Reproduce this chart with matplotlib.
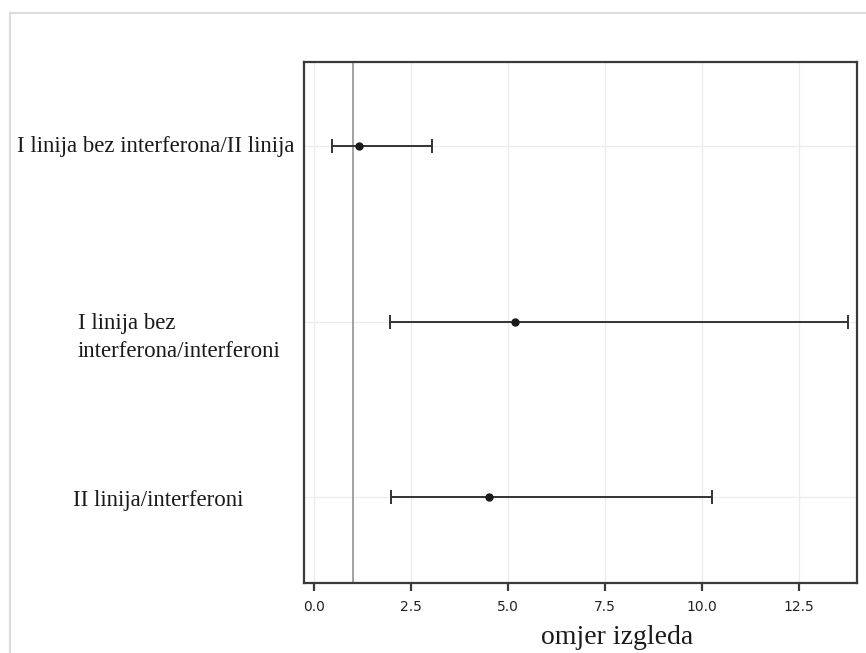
import matplotlib.pyplot as plt
from matplotlib import transforms
from matplotlib.lines import Line2D

# comparisons, odds ratios and confidence limits
labels = ["I linija bez interferona/II linija",
          "I linija bez\ninterferona/interferoni",
          "II linija/interferoni"]
ypos = [3, 2, 1]
odds = [1.16, 5.19, 4.52]
lower = [0.47, 1.96, 1.99]
upper = [3.05, 13.77, 10.26]
xticks = [0.0, 2.5, 5.0, 7.5, 10.0, 12.5]

W, H = 866, 653
fig = plt.figure(figsize=(W / 100, H / 100), dpi=100)

# light frame around the picture
fig.add_artist(Line2D([10 / W, 10 / W], [0, 1 - 13 / H], color="#dcdcdc", lw=1.5))
fig.add_artist(Line2D([10 / W, 1], [1 - 13 / H, 1 - 13 / H], color="#dcdcdc", lw=1.5))

ax = fig.add_axes([304 / W, 1 - 583 / H, (857 - 304) / W, (583 - 62) / H])

ax.set_xlim(-0.26, 14.0)
ax.set_ylim(0.51, 3.48)

for x in xticks:
    ax.axvline(x, color="#ececec", lw=1, zorder=0)
for y in ypos:
    ax.axhline(y, color="#ececec", lw=1, zorder=0)
ax.axvline(1, color="#9a9a9a", lw=1.3, zorder=1)

xerr = [[o - l for o, l in zip(odds, lower)], [u - o for o, u in zip(odds, upper)]]
ax.errorbar(odds, ypos, xerr=xerr, fmt="o", color="#1a1a1a", ecolor="#333333",
            elinewidth=1.4, capsize=5, capthick=1.4, markersize=5, zorder=3)

for s in ax.spines.values():
    s.set_color("#3a3a3a")
    s.set_linewidth(1.6)

ax.set_xticks(xticks)
ax.set_xticklabels([f"{x:.1f}" for x in xticks], family=["Liberation Sans Narrow", "DejaVu Sans"],
                   fontsize=10, color="#222222")
ax.tick_params(axis="x", length=6, width=1.6, color="#3a3a3a", pad=6)
ax.set_yticks([])

# row labels, placed by hand like in the original
trans = transforms.blended_transform_factory(fig.transFigure, ax.transData)
label_x = [17, 78, 73]
label_dy = [0, -0.09, -0.02]
for lab, y, lx, dy in zip(labels, ypos, label_x, label_dy):
    ax.text(lx / W, y + dy, lab, transform=trans, ha="left", va="center",
            family="Liberation Serif", fontsize=16.5, color="#1a1a1a", clip_on=False,
            linespacing=1.45)

fig.text(617 / W, 1 - 638 / H, "omjer izgleda", ha="center", va="center",
         family="Liberation Serif", fontsize=20, color="#1a1a1a")

fig.savefig("out.png", dpi=100)
